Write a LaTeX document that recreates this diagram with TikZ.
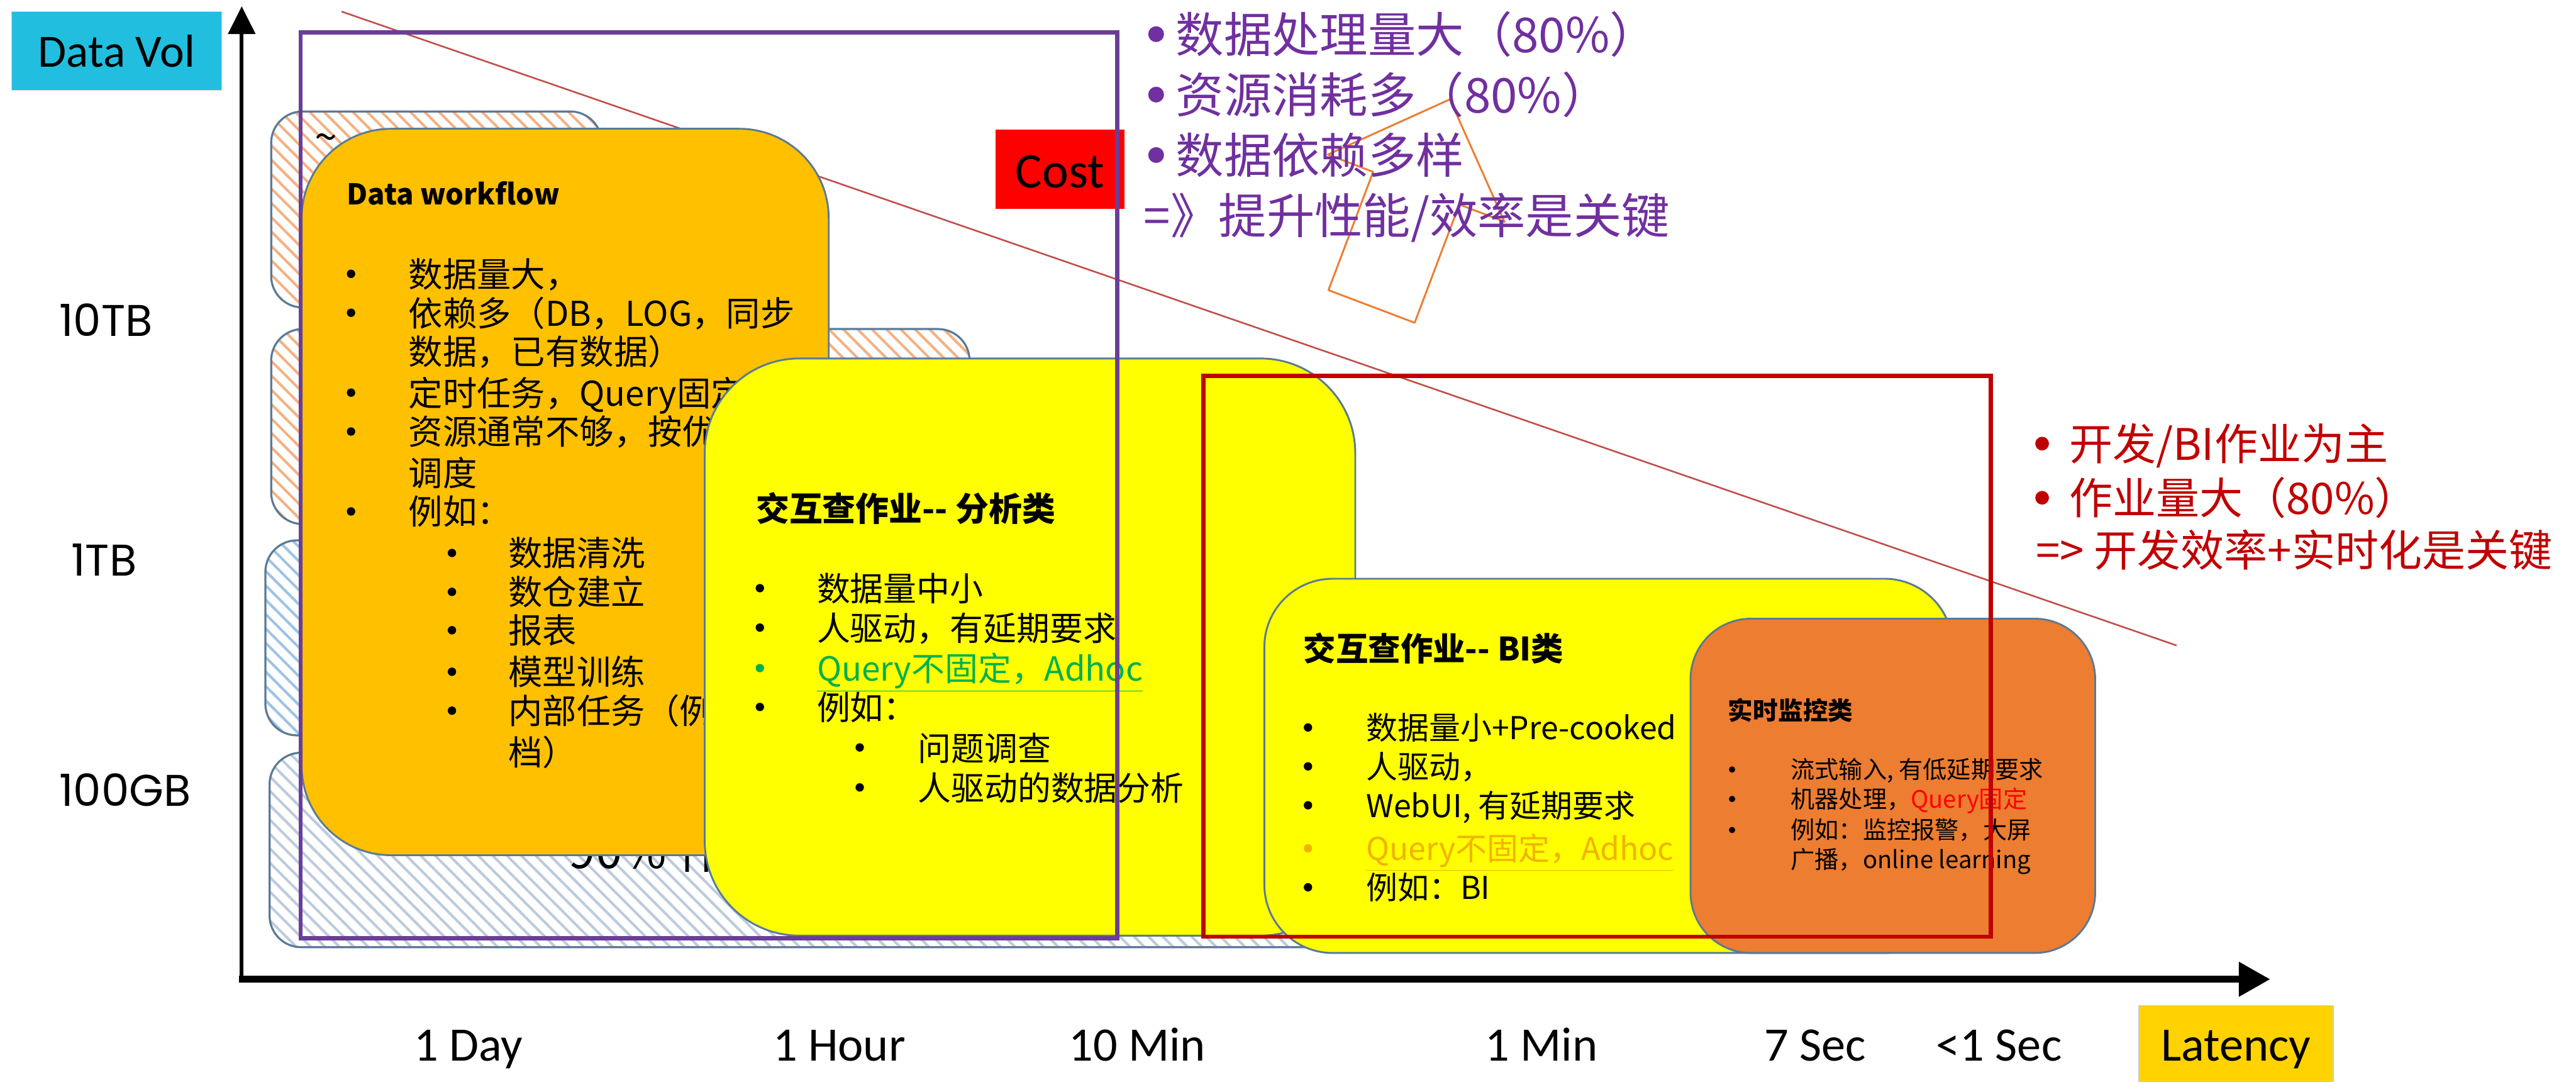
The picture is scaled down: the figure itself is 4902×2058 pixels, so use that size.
\documentclass[tikz,border=0pt]{standalone}
\usepackage{fontspec}
\setmainfont{Noto Sans CJK SC}
\newfontfamily\carl{Carlito}
\newfontfamily\popf{Poppins}
\usetikzlibrary{arrows.meta,patterns.meta}
\definecolor{cyanbox}{HTML}{21BEDF}
\definecolor{latgold}{HTML}{FFD200}
\definecolor{dworange}{HTML}{FFC000}
\definecolor{rtorange}{HTML}{ED7D31}
\definecolor{yellowbox}{HTML}{FFFF00}
\definecolor{boxline}{HTML}{5A7A96}
\definecolor{purprect}{HTML}{6A3E98}
\definecolor{purptext}{HTML}{7030A0}
\definecolor{redrect}{HTML}{C00000}
\definecolor{costred}{HTML}{FF0000}
\definecolor{diagline}{HTML}{C0504D}
\definecolor{hatchor}{HTML}{F4B183}
\definecolor{hatchbl}{HTML}{9DC3E6}
\definecolor{hatchgr}{HTML}{BCCBDD}
\definecolor{qgreen}{HTML}{00B050}
\definecolor{qorange}{HTML}{F0B400}
\newcommand\fs[1]{\fontsize{#1}{#1}\selectfont}
\newcommand\bitem[5]{\node[bdot] (#1d) at (#2,#4) {}; \node[btxt] (#1) at (#3,#4) {#5};}
\newcommand\citem[4]{\node[btxt] (#1) at (#2,#3) {#4};}
\begin{document}
\begin{tikzpicture}[x=0.01cm,y=-0.01cm,
  hbase/.style={draw=boxline,line width=1.1pt,rounded corners=0.6cm,preaction={fill=white}},
  hor/.style={hbase,pattern={Lines[angle=-45,distance=5.5pt,line width=1.4pt]},pattern color=hatchor},
  hbl/.style={hbase,pattern={Lines[angle=-45,distance=5.5pt,line width=1.4pt]},pattern color=hatchbl},
  hgr/.style={hbase,pattern={Lines[angle=-45,distance=5.5pt,line width=1.4pt]},pattern color=hatchgr},
  card/.style={draw=boxline,line width=1pt},
  dotsty/.style n args={3}{circle,fill=#1,inner sep=0pt,minimum size=#2,yshift=#3},
  bdot/.style={dotsty={black}{0.16cm}{0.25cm}},
  btxt/.style={anchor=base west,inner sep=0pt},
  lab/.style={anchor=base,inner sep=0pt,font=\carl\fs{26pt}},
  ylab/.style={anchor=base west,inner sep=0pt,font=\popf\fs{24pt}},
]
\useasboundingbox (0,0) rectangle (4902,2058);

% hatched background boxes
\draw[hor] (516,212) rectangle (1145,585);
\node[inner sep=0pt,font=\fs{22pt}] (tilde) at (620,272) {\textasciitilde};
\draw[hor] (516,626) rectangle (1845,997);
\draw[hbl] (505,1028) rectangle (1600,1399);
\draw[hgr] (513,1432) rectangle (2550,1802);
\node[btxt,font=\fs{26pt}] (ninety) at (1082,1652) {90\% 作业};

% diagonal line
\coordinate (dl1) at (650,22);
\coordinate (dl2) at (4142,1228);
\draw[diagline,line width=0.9pt] (dl1) -- (dl2);

% Data workflow
\draw[card,fill=dworange,rounded corners=1.7cm] (574,245) rectangle (1577,1627);
\begin{scope}[font=\fs{18.5pt}]
\node[btxt,font=\fs{15.5pt}\bfseries] (dwt) at (659,389) {Data workflow};
\bitem{dw1}{668}{777}{546}{数据量大，}
\bitem{dw2}{668}{777}{620}{依赖多（DB，LOG，同步}
\citem{dw2b}{777}{693}{数据，已有数据）}
\bitem{dw3}{668}{777}{772}{定时任务，Query固定}
\bitem{dw4}{668}{777}{846}{资源通常不够，按优}
\citem{dw4b}{777}{925}{调度}
\bitem{dw5}{668}{777}{998}{例如：}
\bitem{dw6}{860}{967}{1077}{数据清洗}
\bitem{dw7}{860}{967}{1151}{数仓建立}
\bitem{dw8}{860}{967}{1224}{报表}
\bitem{dw9}{860}{967}{1303}{模型训练}
\bitem{dw10}{860}{967}{1377}{内部任务（例}
\citem{dw10b}{967}{1456}{档）}
\end{scope}

% Analysis
\draw[card,fill=yellowbox,rounded corners=1.8cm] (1341,682) rectangle (2579,1780);
\begin{scope}[font=\fs{18pt}]
\node[btxt,font=\fs{18pt}\bfseries] (ant) at (1438,991) {交互查作业-{}- 分析类};
\bitem{an1}{1446}{1554}{1144}{数据量中小}
\bitem{an2}{1446}{1554}{1219}{人驱动，有延期要求}
\node[dotsty={qgreen}{0.16cm}{0.24cm}] (an3d) at (1446,1295) {};
\node[btxt,text=qgreen] (an3) at (1554,1295) {\underline{Query不固定，Adhoc}};
\bitem{an4}{1446}{1554}{1370}{例如：}
\bitem{an5}{1636}{1746}{1447}{问题调查}
\bitem{an6}{1636}{1746}{1523}{人驱动的数据分析}
\end{scope}

% BI
\draw[card,fill=yellowbox,rounded corners=1.3cm] (2406,1101) rectangle (3716,1813);
\begin{scope}[font=\fs{17pt},bdot/.style={dotsty={black}{0.16cm}{0.23cm}}]
\node[btxt,font=\fs{17.5pt}\bfseries] (bit) at (2480,1257) {交互查作业-{}- BI类};
\bitem{bi1}{2489}{2599}{1407}{数据量小+Pre-cooked}
\bitem{bi2}{2489}{2599}{1481}{人驱动，}
\bitem{bi3}{2489}{2599}{1555}{WebUI, 有延期要求}
\node[dotsty={qorange}{0.16cm}{0.23cm}] (bi4d) at (2489,1637) {};
\node[btxt,text=qorange] (bi4) at (2599,1637) {\underline{Query不固定，Adhoc}};
\bitem{bi5}{2489}{2599}{1711}{例如：BI}
\end{scope}

% Realtime
\draw[card,fill=rtorange,rounded corners=1.15cm] (3217,1177) rectangle (3987,1813);
\begin{scope}[font=\fs{13pt},bdot/.style={dotsty={black}{0.12cm}{0.17cm}}]
\node[btxt,font=\fs{13.5pt}\bfseries] (rtt) at (3288,1370) {实时监控类};
\bitem{rt1}{3296}{3407}{1481}{流式输入, 有低延期要求}
\bitem{rt2}{3296}{3407}{1537}{机器处理，\textcolor{costred}{Query固定}}
\bitem{rt3}{3296}{3407}{1596}{例如：监控报警，大屏}
\citem{rt3b}{3407}{1652}{广播，online learning}
\end{scope}

% Cost
\path[fill=costred] (1894,247) rectangle (2140,397);
\node[anchor=base,inner sep=0pt,font=\carl\fs{27pt}] (cost) at (2017,357) {Cost};

% frames
\draw[purprect,line width=2.3pt] (572,62) rectangle (2126,1785);
\draw[redrect,line width=2.3pt] (2290,715) rectangle (3788,1782);

% tilted arrow
\draw[rtorange,line width=1pt,fill=white,line join=round]
  (2528,552) -- (2613,327) -- (2527,294) -- (2759,189) -- (2863,422) -- (2777,389) -- (2692,614) -- cycle;

% purple text
\begin{scope}[font=\fs{26pt},text=purptext,bdot/.style={dotsty={purptext}{0.3cm}{0.35cm}}]
\bitem{p1}{2200}{2237}{100}{数据处理量大（80\%）}
\bitem{p2}{2200}{2237}{215}{资源消耗多（80\%）}
\bitem{p3}{2200}{2237}{330}{数据依赖多样}
\citem{p4}{2176}{445}{=》提升性能/效率是关键}
\end{scope}

% red text
\begin{scope}[font=\fs{23.5pt},text=redrect,bdot/.style={dotsty={redrect}{0.26cm}{0.31cm}}]
\bitem{r1}{3886}{3937}{875}{开发/BI作业为主}
\bitem{r2}{3886}{3937}{978}{作业量大（80\%）}
\citem{r3}{3874}{1078}{=> 开发效率+实时化是关键}
\end{scope}

% axes
\coordinate (O) at (455,1863);
\coordinate (Oy) at (460,1866);
\coordinate (ytip) at (460,12);
\coordinate (xtip) at (4320,1863);
\draw[line width=2pt,-{Triangle[width=14.5pt,length=15pt]}] (Oy) -- (ytip);
\draw[line width=3.7pt,-{Triangle[width=18pt,length=17pt]}] (O) -- (xtip);

% axis labels
\path[fill=cyanbox,draw=gray!40,line width=0.5pt] (22,22) rectangle (422,172);
\node[anchor=base,inner sep=0pt,font=\carl\fs{25pt}] (dvol) at (222,127) {Data Vol};
\node[ylab] (y10) at (112,640) {10TB};
\node[ylab] (y1) at (135,1096) {1TB};
\node[ylab] (y100) at (112,1534) {100GB};

\node[lab] (x1) at (891,2018) {1 Day};
\node[lab] (x2) at (1597,2018) {1 Hour};
\node[lab] (x3) at (2164,2018) {10 Min};
\node[lab] (x4) at (2933,2018) {1 Min};
\node[lab] (x5) at (3454,2018) {7 Sec};
\node[lab] (x6) at (3804,2018) {<1 Sec};
\path[fill=latgold,draw=gray!40,line width=0.5pt] (4070,1913) rectangle (4440,2058);
\node[lab] (lat) at (4255,2018) {Latency};
\end{tikzpicture}
\end{document}
